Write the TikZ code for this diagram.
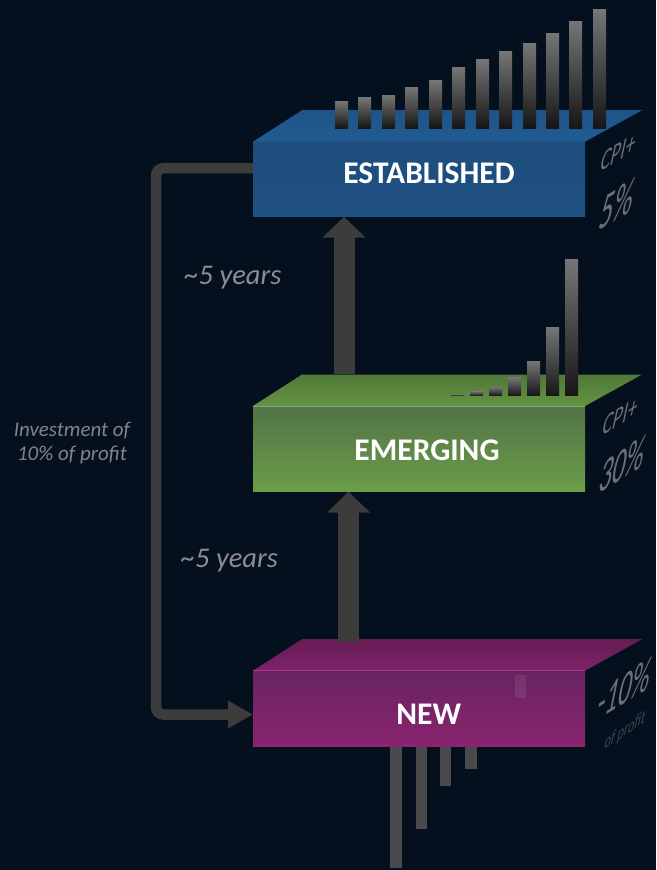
\documentclass[tikz,border=0pt]{standalone}
\usepackage{fontspec}
\setmainfont{Carlito}
\usetikzlibrary{arrows.meta,calc}

\definecolor{bg}{RGB}{5,16,31}
\definecolor{arrowgray}{RGB}{60,60,60}
\definecolor{labelgray}{RGB}{140,140,146}
\definecolor{sidegray}{RGB}{112,112,116}
\definecolor{sidedark}{RGB}{62,68,78}
% established (blue)
\definecolor{estTopA}{RGB}{30,84,136}
\definecolor{estTopB}{RGB}{34,92,146}
\definecolor{estFrA}{RGB}{29,77,124}
\definecolor{estFrB}{RGB}{30,80,130}
% emerging (green)
\definecolor{emgTopA}{RGB}{80,120,56}
\definecolor{emgTopB}{RGB}{100,148,66}
\definecolor{emgFrA}{RGB}{82,114,72}
\definecolor{emgFrB}{RGB}{108,158,72}
% new (magenta)
\definecolor{newTopA}{RGB}{102,28,84}
\definecolor{newTopB}{RGB}{126,34,106}
\definecolor{newFrA}{RGB}{104,36,96}
\definecolor{newFrB}{RGB}{138,36,112}
\definecolor{newEdge}{RGB}{168,52,142}
% bars
\definecolor{barTop}{RGB}{118,118,118}
\definecolor{barMid}{RGB}{74,74,74}
\definecolor{barBot}{RGB}{22,22,22}
\definecolor{lossbar}{RGB}{74,74,76}

\begin{document}
\begin{tikzpicture}[x=1pt,y=-1pt,
  front/.style={minimum width=332pt, inner sep=0pt, outer sep=0pt, draw=none},
  boxlabel/.style={text=white, font=\bfseries\fontsize{31.5}{36}\selectfont, inner sep=0pt},
  yearslabel/.style={text=labelgray, font=\itshape\fontsize{28.5}{32}\selectfont, inner sep=0pt},
  sidetext/.style={inner sep=0pt, text=sidegray},
  bar/.style={top color=barTop, middle color=barMid, bottom color=barBot},
  bigarrow/.style={draw=arrowgray, line width=21pt, -{Triangle[length=21pt,width=42pt]}},
  loopline/.style={draw=arrowgray, line width=10.5pt, rounded corners=7.5pt,
    -{Triangle[length=25pt,width=26pt]}},
]
\fill[bg] (0,0) rectangle (656,870);
\useasboundingbox (0,0) rectangle (656,870);

% ---------- bars of the new tier, hanging below its box ----------
\foreach \bx/\bw/\bb in {390/12/868, 416/11/829, 440/11/786, 465/12/769}
  \fill[lossbar] (\bx,700) rectangle (\bx+\bw,\bb);

% ---------- front faces ----------
\node[front, minimum height=75pt, top color=estFrA, bottom color=estFrB]
  (est) at (419,179.2) {};
\node[front, minimum height=85.7pt, top color=emgFrA, bottom color=emgFrB]
  (emg) at (419,448.85) {};
\node[front, minimum height=76pt, top color=newFrA, bottom color=newFrB]
  (new) at (419,708.7) {};

% ---------- top faces ----------
\shade[top color=estTopA, bottom color=estTopB]
  (est.north west) -- ++(49,-31.5) -- ++(340,0) -- (est.north east) -- cycle;
\shade[top color=emgTopA, bottom color=emgTopB]
  (emg.north west) -- ++(49,-31.5) -- ++(340,0) -- (emg.north east) -- cycle;
\draw[emgTopB!80!white, line width=0.8pt] (emg.north west) -- (emg.north east);
\shade[top color=newTopA, bottom color=newTopB]
  (new.north west) -- ++(49,-31.5) -- ++(340,0) -- (new.north east) -- cycle;
\draw[newEdge, line width=0.8pt] (new.north west) -- (new.north east);

% faint bar seen through the front of the new tier
\fill[white, opacity=0.08] (515,675) rectangle (526,698);

% ---------- bars standing on the established tier ----------
\foreach \bx/\bt in {335/101, 358/97, 382/95, 405/87, 429/80, 452/67,
                     476/59, 499/51, 523/43, 546/33, 569/21, 593/9}
  \shade[bar] (\bx,\bt) rectangle (\bx+13,128);

% ---------- bars standing on the emerging tier ----------
\foreach \bx/\bt in {451/394, 470/391.3, 489/387, 508/377.7, 527/361,
                     546/327, 565/259}
  \shade[bar] (\bx,\bt) rectangle (\bx+13,395.7);

% ---------- tier labels ----------
\node[boxlabel] (estlabel) at (429,173) {ESTABLISHED};
\node[boxlabel] (emglabel) at (427,450) {EMERGING};
\node[boxlabel] (newlabel) at (428.7,713.8) {NEW};

% ---------- growth arrows between tiers ----------
\coordinate (upfoot) at (344,374);
\coordinate (lowfoot) at (348.5,642);
\draw[bigarrow] (upfoot) -- (upfoot |- est.south);
\draw[bigarrow] (lowfoot) -- (lowfoot |- emg.south);

\node[yearslabel] (years1) at (233,278) {\textasciitilde 5 years};
\node[yearslabel] (years2) at (229.5,561) {\textasciitilde 5 years};

% ---------- reinvestment loop ----------
\coordinate (loopout) at ([yshift=11pt]est.west);
\coordinate (loopin) at ([yshift=-5.8pt]new.west);
\coordinate (loopx) at (156,0);
\draw[loopline] (loopout) -| (loopx |- loopin) -- (loopin);

\node[text=labelgray!108, font=\itshape\fontsize{21}{24.5}\selectfont,
      align=center, inner sep=0pt] (invest) at (72,443)
  {Investment of\\10\% of profit};

% ---------- side-face figures (baseline runs up the receding face) ----------
\begin{scope}[shift={(619,152)}]
  \node[sidetext, cm={0.72,0.44,0.26,1.2,(0,0)}, transform shape,
        font=\fontsize{26}{26}\selectfont] (cpi1) at (0,0) {CPI+};
\end{scope}
\begin{scope}[shift={(618,204)}]
  \node[sidetext, cm={0.66,0.4,0.26,1.3,(0,0)}, transform shape,
        font=\fontsize{41}{41}\selectfont] (pct1) at (0,0) {5\%};
\end{scope}
\begin{scope}[shift={(621,416)}]
  \node[sidetext, cm={0.72,0.44,0.26,1.2,(0,0)}, transform shape,
        font=\fontsize{26}{26}\selectfont] (cpi2) at (0,0) {CPI+};
\end{scope}
\begin{scope}[shift={(623,464)}]
  \node[sidetext, cm={0.66,0.4,0.26,1.3,(0,0)}, transform shape,
        font=\fontsize{39}{39}\selectfont] (pct2) at (0,0) {30\%};
\end{scope}
\begin{scope}[shift={(625,688)}]
  \node[sidetext, cm={0.66,0.4,0.26,1.3,(0,0)}, transform shape,
        font=\fontsize{39}{39}\selectfont] (pct3) at (0,0) {-10\%};
\end{scope}
\begin{scope}[shift={(625,731)}]
  \node[sidetext, text=sidedark, cm={0.72,0.48,0.24,1.2,(0,0)}, transform shape,
        font=\fontsize{17}{17}\selectfont] (ofprofit) at (0,0) {of profit};
\end{scope}
\end{tikzpicture}
\end{document}
